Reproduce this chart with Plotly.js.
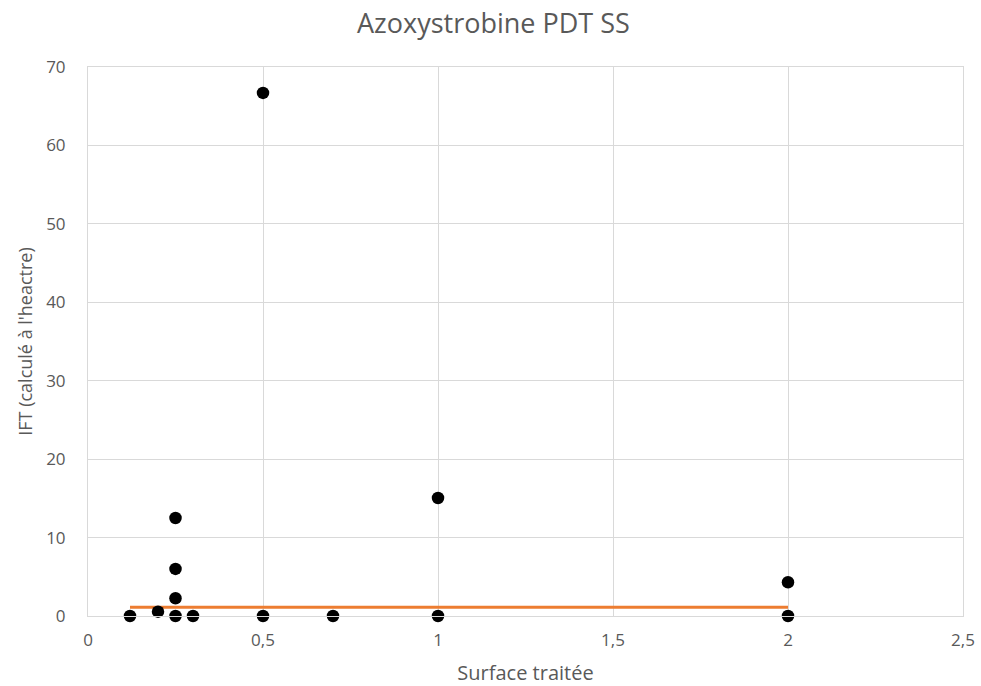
<!DOCTYPE html>
<html>
<head>
<meta charset="utf-8">
<script src="https://cdn.plot.ly/plotly-3.0.1.min.js"></script>
<style>html,body{margin:0;padding:0;background:#fff;}#chart{width:981px;height:686px;}</style>
</head>
<body>
<div id="chart"></div>
<script>
var surface = [0.12, 0.2, 0.25, 0.25, 0.25, 0.25, 0.3, 0.5, 0.5, 0.7, 1, 1, 2, 2];
var ift     = [0, 0.55, 12.5, 6.0, 2.26, 0, 0, 66.7, 0, 0, 15.05, 0, 4.3, 0];
var lineX = [0.12, 2];
var lineY = [1.1, 1.1];
var xTicks = [0, 0.5, 1, 1.5, 2, 2.5];
var yTicks = [0, 10, 20, 30, 40, 50, 60, 70];

var font = "'Open Sans', sans-serif";
var traces = [
  {x: lineX, y: lineY, mode: 'lines', type: 'scatter', line: {color: '#ED7D31', width: 3}, hoverinfo: 'skip', cliponaxis: false},
  {x: surface, y: ift, mode: 'markers', type: 'scatter', marker: {color: '#000000', size: 12.5}, cliponaxis: false}
];
var layout = {
  width: 981, height: 686,
  margin: {l: 88, r: 18, t: 67, b: 70},
  paper_bgcolor: '#fff', plot_bgcolor: '#fff',
  separators: ', ',
  showlegend: false,
  font: {family: font, color: '#595959', size: 17},
  title: {text: 'Azoxystrobine PDT SS', x: 0.503, xref: 'container', xanchor: 'center', y: 0.965, yref: 'container', yanchor: 'middle', font: {size: 27, color: '#595959', family: font}},
  xaxis: {
    range: [0, 2.5], tickvals: xTicks, ticktext: xTicks.map(function(v){return String(v).replace('.', ',');}),
    showgrid: true, gridcolor: '#d9d9d9', gridwidth: 1, zeroline: false,
    showline: true, mirror: true, linecolor: '#d9d9d9', linewidth: 1,
    ticks: '', ticklabelstandoff: 9, tickfont: {size: 17, color: '#595959'},
    title: {text: 'Surface traitée', font: {size: 20, color: '#595959'}, standoff: 17}
  },
  yaxis: {
    range: [0, 70], tickvals: yTicks,
    showgrid: true, gridcolor: '#d9d9d9', gridwidth: 1, zeroline: false,
    showline: true, mirror: true, linecolor: '#d9d9d9', linewidth: 1,
    ticks: '', ticklabelstandoff: 18, tickfont: {size: 17, color: '#595959'},
    title: {text: "IFT (calculé à l'heactre)", font: {size: 18, color: '#595959'}, standoff: 8}
  }
};
Plotly.newPlot('chart', traces, layout, {displayModeBar: false, staticPlot: true});
</script>
</body>
</html>
